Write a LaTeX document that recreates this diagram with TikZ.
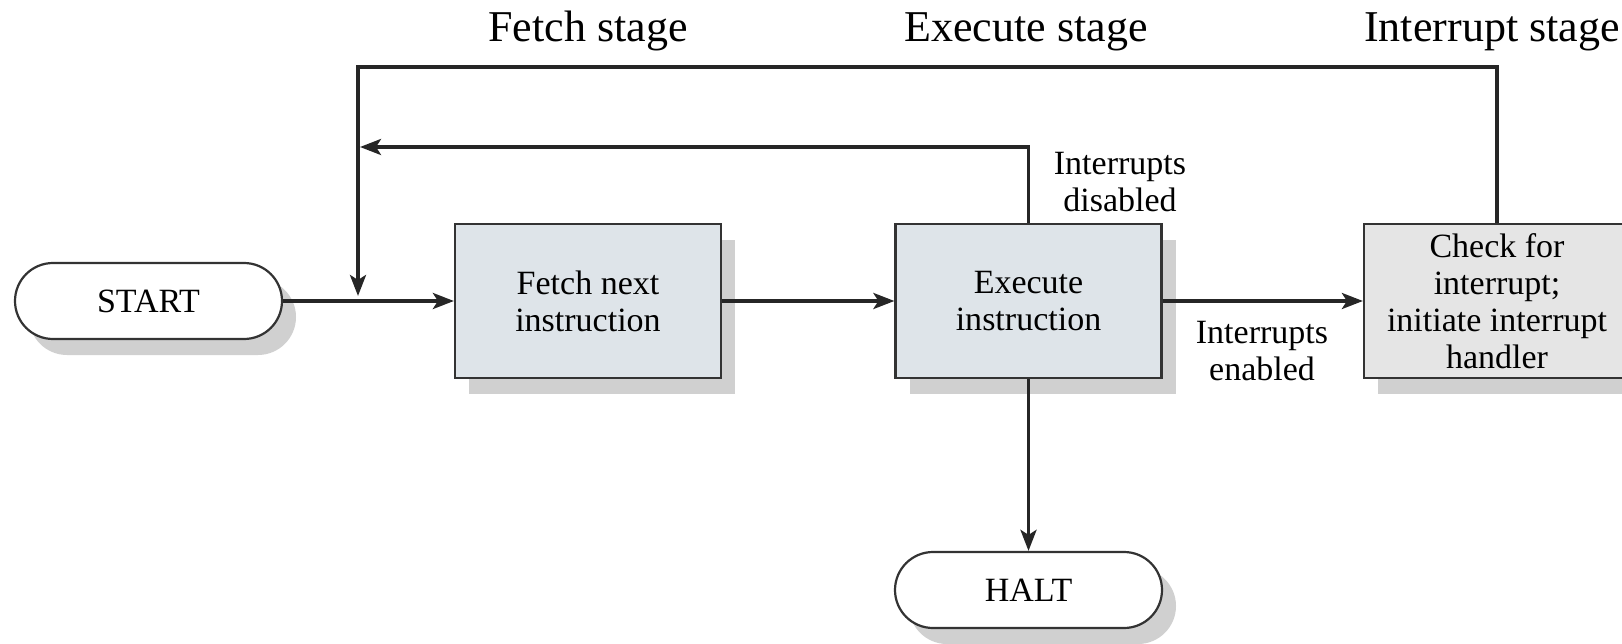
\documentclass[tikz,border=0pt]{standalone}
\usepackage{fontspec}
\setmainfont{Liberation Serif}
\usetikzlibrary{shapes.misc,shadows,arrows.meta}
\definecolor{procfill}{RGB}{222,228,233}
\definecolor{intfill}{RGB}{229,229,229}
\definecolor{shadowgrey}{RGB}{208,208,208}
\newcommand\boxfont{\fontsize{34}{37}\selectfont}
\newcommand\stagefont{\fontsize{44}{48}\selectfont}
\tikzset{
  shade box/.style={drop shadow={shadow xshift=14pt, shadow yshift=-16pt, fill=shadowgrey, opacity=1}},
  procbox/.style={rectangle, draw=black!80, line width=2.2pt, fill=procfill, minimum width=266pt, minimum height=154pt, inner sep=0pt, align=center, font=\boxfont, shade box},
  intbox/.style={procbox, fill=intfill},
  terminal/.style={rounded rectangle, draw=black!80, line width=2.2pt, fill=white, minimum width=267pt, minimum height=76pt, inner sep=0pt, font=\boxfont, shade box},
  flow/.style={line width=3.6pt, draw=black!85, -{Stealth[length=21pt, width=16pt, inset=5pt]}},
  note/.style={align=center, font=\boxfont, inner sep=0pt},
  stage/.style={anchor=base, font=\stagefont, inner sep=0pt}
}
\begin{document}
\begin{tikzpicture}[x=1pt, y=-1pt]
\useasboundingbox (0,0) rectangle (1622,644);

% stage headings
\node[stage] (fs) at (588,42) {Fetch stage};
\node[stage] (es) at (1026,42) {Execute stage};
\node[stage] (is) at (1492,42) {Interrupt stage};

% flowchart blocks
\node[terminal] (start) at (148.5,301) {START};
\node[procbox] (fetch) at (588,301) {Fetch next\\instruction};
\node[procbox] (exec) at (1028.5,301) {Execute\\instruction};
\node[intbox] (check) at (1497,301) {Check for\\interrupt;\\initiate interrupt\\handler};
\node[terminal] (halt) at (1028.5,590) {HALT};

% routing points
\coordinate (join) at (358,301);
\coordinate (inner) at (358,147);
\coordinate (outer) at (358,67);

% main path
\draw[flow] (start.east) -- (fetch.west);
\draw[flow] (fetch.east) -- (exec.west);
\draw[flow] (exec.east) -- (check.west);
\draw[flow] (exec.south) -- (halt.north);

% return paths
\draw[flow] (exec.north) |- ([xshift=2pt]inner);
\draw[flow] (check.north) |- (outer) -- ([yshift=5pt]join);

% path labels
\node[note] (dis) at (1120,182) {Interrupts\\disabled};
\node[note] (en) at (1262,351) {Interrupts\\enabled};
\end{tikzpicture}
\end{document}
